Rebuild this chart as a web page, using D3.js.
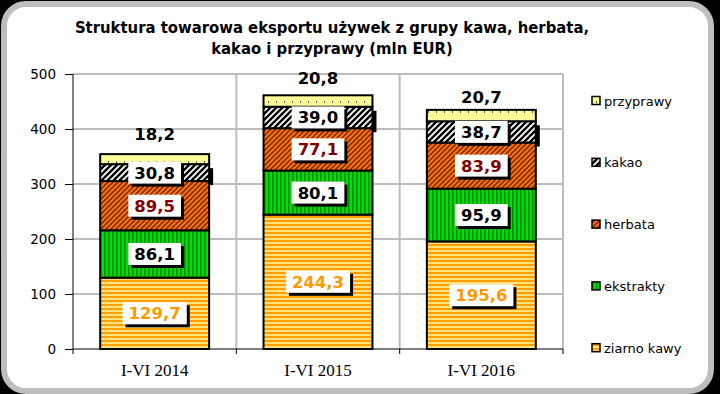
<!DOCTYPE html>
<html><head><meta charset="utf-8">
<script src="https://cdn.jsdelivr.net/npm/d3@7"></script>
<style>
html,body{margin:0;padding:0;background:#000;}
svg{display:block;}
</style></head>
<body>
<script>
const categories = ["I-VI 2014", "I-VI 2015", "I-VI 2016"];
const seriesNames = ["ziarno kawy", "ekstrakty", "herbata", "kakao", "przyprawy"];
const ziarnoKawy = [129.7, 244.3, 195.6];
const ekstrakty = [86.1, 80.1, 95.9];
const herbata = [89.5, 77.1, 83.9];
const kakao = [30.8, 39.0, 38.7];
const przyprawy = [18.2, 20.8, 20.7];
const yTicks = [0, 100, 200, 300, 400, 500];
const titleLines = ["Struktura towarowa eksportu używek z grupy kawa, herbata,", "kakao i przyprawy (mln EUR)"];

const seriesValues = [ziarnoKawy, ekstrakty, herbata, kakao, przyprawy];
const fmt = v => v.toFixed(1).replace(".", ",");

const W = 720, H = 394;
const svg = d3.select("body").append("svg").attr("width", W).attr("height", H);
const defs = svg.append("defs");

// patterns
function pat(id, w, h, bg, draw) {
  const p = defs.append("pattern").attr("id", id).attr("patternUnits", "userSpaceOnUse")
    .attr("width", w).attr("height", h);
  p.append("rect").attr("width", w).attr("height", h).attr("fill", bg);
  draw(p);
}
pat("p0", 4, 4, "#FFE27A", p => p.append("rect").attr("width", 4).attr("height", 2).attr("fill", "#FF9E00"));
pat("p1", 4, 4, "#00E000", p => p.append("rect").attr("width", 1.5).attr("height", 4).attr("fill", "#008A00"));
pat("p2", 5, 5, "#FF7A10", p => {
  p.append("path").attr("d", "M-1,6 L6,-1 M-1,1 L1,-1 M4,6 L6,4").attr("stroke", "#8A3000").attr("stroke-width", 1.8);
});
pat("p3", 6, 6, "#ffffff", p => {
  p.append("path").attr("d", "M-1,7 L7,-1 M-2,2 L2,-2 M4,8 L8,4").attr("stroke", "#000").attr("stroke-width", 2.4);
});
pat("p4", 8, 10, "#FFFF99", p => p.append("rect").attr("x", 4).attr("y", 1).attr("width", 1).attr("height", 2).attr("fill", "#555"));

// frame
svg.append("rect").attr("x", 4).attr("y", 4).attr("width", 707).attr("height", 387)
  .attr("rx", 22).attr("ry", 22).attr("fill", "#fff").attr("stroke", "#BEBEBE").attr("stroke-width", 6);

// title
const title = svg.append("text").attr("text-anchor", "middle")
  .attr("font-family", "'DejaVu Sans Condensed', 'DejaVu Sans', sans-serif").attr("font-weight", "bold")
  .attr("font-size", 16.5).attr("fill", "#000");
titleLines.forEach((t, i) => title.append("tspan").attr("x", 332).attr("y", 33 + i * 21).text(t));

// scales
const x = d3.scaleBand().domain(categories).range([73, 563]).paddingInner(0.333).paddingOuter(0.1665);
const y = d3.scaleLinear().domain([0, 500]).range([349, 74]);

// gridlines
const grid = svg.append("g").attr("stroke", "#BDBDBD").attr("stroke-width", 2);
yTicks.filter(t => t > 0).forEach(t => grid.append("line").attr("x1", 73).attr("x2", 563).attr("y1", y(t)).attr("y2", y(t)));
const step = x.step();
categories.forEach((c, i) => {
  const xx = 73 + step * (i + 1);
  grid.append("line").attr("x1", xx).attr("x2", xx).attr("y1", y(500)).attr("y2", y(0));
});

// stack
const stackData = categories.map((c, i) => {
  const o = { cat: c };
  seriesNames.forEach((s, j) => o[s] = seriesValues[j][i]);
  return o;
});
const stacked = d3.stack().keys(seriesNames)(stackData);

// kakao shadow
const kIdx = 3;
svg.append("g").selectAll("rect").data(stacked[kIdx]).join("rect")
  .attr("x", d => x(d.data.cat) + 4).attr("y", d => y(d[1]) + 4)
  .attr("width", x.bandwidth()).attr("height", d => y(d[0]) - y(d[1])).attr("fill", "#000");

// bars
stacked.forEach((layer, j) => {
  svg.append("g").selectAll("rect").data(layer).join("rect")
    .attr("x", d => x(d.data.cat)).attr("y", d => y(d[1]))
    .attr("width", x.bandwidth()).attr("height", d => y(d[0]) - y(d[1]))
    .attr("fill", `url(#p${j})`).attr("stroke", "#000").attr("stroke-width", 2);
});

// axes
const yAxis = d3.axisLeft(y).tickValues(yTicks).tickSize(8).tickPadding(9);
const gy = svg.append("g").attr("transform", "translate(73,0)").call(yAxis);
gy.select(".domain").attr("stroke", "#000").attr("d", `M0,${y(500)}V${y(0)}`);
gy.selectAll(".tick line").attr("stroke", "#000");
gy.selectAll("text").attr("font-family", "'DejaVu Sans', Verdana, sans-serif").attr("font-size", 13.5).attr("fill", "#000");

const gx = svg.append("g").attr("transform", `translate(0,${y(0)})`);
gx.append("line").attr("x1", 73).attr("x2", 563).attr("stroke", "#000");
[0, 1, 2, 3].forEach(i => gx.append("line").attr("x1", 73 + step * i).attr("x2", 73 + step * i).attr("y1", 0).attr("y2", 5).attr("stroke", "#000"));
gx.selectAll("text.cat").data(categories).join("text").attr("class", "cat")
  .attr("x", d => x(d) + x.bandwidth() / 2).attr("y", 27).attr("text-anchor", "middle")
  .attr("font-family", "'Liberation Serif', 'Times New Roman', serif").attr("font-size", 17).text(d => d);

// labels inside
const labelColors = ["#FF9900", "#000", "#800000", "#000"];
const lab = svg.append("g").attr("font-family", "'DejaVu Sans', sans-serif").attr("font-weight", "bold").attr("font-size", 16.5);
[0, 1, 2, 3].forEach(j => {
  stacked[j].forEach((d, i) => {
    const cx = x(d.data.cat) + x.bandwidth() / 2;
    const cy = (y(d[0]) + y(d[1])) / 2;
    const t = fmt(seriesValues[j][i]);
    const g = lab.append("g");
    const txt = g.append("text").attr("x", cx).attr("y", cy + 6).attr("text-anchor", "middle").attr("fill", labelColors[j]).text(t);
    const bw = txt.node().getComputedTextLength() + 12;
    g.insert("rect", "text").attr("x", cx - bw / 2 + 3).attr("y", cy - 11 + 3).attr("width", bw).attr("height", 22).attr("fill", "#000");
    g.insert("rect", "text").attr("x", cx - bw / 2).attr("y", cy - 11).attr("width", bw).attr("height", 22).attr("fill", "#fff");
  });
});
// top labels (przyprawy)
const topDy = [20, 17, 13];
stacked[4].forEach((d, i) => {
  const cx = x(d.data.cat) + x.bandwidth() / 2;
  const cy = y(d[1]) - topDy[i];
  lab.append("text").attr("x", cx).attr("y", cy + 6).attr("text-anchor", "middle").attr("fill", "#000").text(fmt(przyprawy[i]));
});

// legend
const legendOrder = [4, 3, 2, 1, 0];
const lg = svg.append("g");
legendOrder.forEach((j, k) => {
  const ly = 101 + k * 61.8;
  lg.append("rect").attr("x", 592).attr("y", ly - 4.5).attr("width", 8).attr("height", 8)
    .attr("fill", `url(#p${j})`).attr("stroke", "#000").attr("stroke-width", 1.5);
  lg.append("text").attr("x", 604).attr("y", ly + 4.5).attr("font-family", "'DejaVu Sans', Verdana, sans-serif")
    .attr("font-size", 13).attr("fill", "#000").text(seriesNames[j]);
});
</script>
</body></html>
